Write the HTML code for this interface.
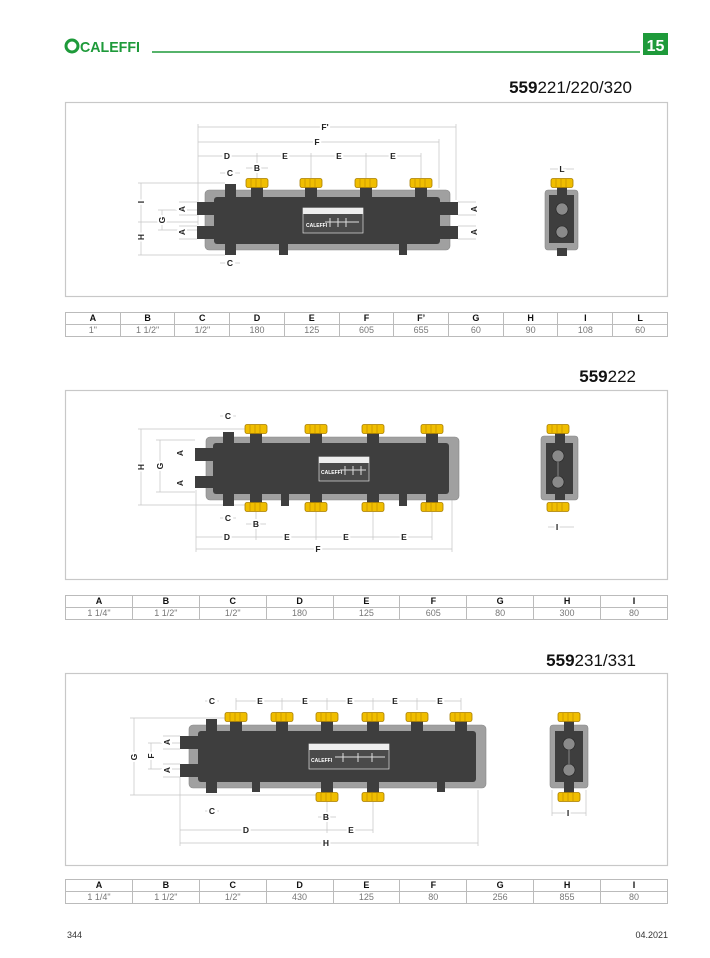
<!DOCTYPE html>
<html><head><meta charset="utf-8"><style>
html,body{margin:0;padding:0;background:#fff;}
body{width:710px;height:958px;position:relative;overflow:hidden;font-family:"Liberation Sans",sans-serif;}
.t{position:absolute;left:65px;width:603px;border-collapse:collapse;font-size:9px;table-layout:fixed;}
.t td{border:1px solid #bbb;text-align:center;padding:0;height:11px;line-height:11px;}
.t tr:first-child td{font-weight:bold;color:#111;border-top:1.5px solid #bbb;}
.t tr:last-child td{color:#777;}
</style></head><body>
<svg width="710" height="958" style="position:absolute;left:0;top:0" font-family="Liberation Sans, sans-serif">
<defs>
<g id="nut"><rect x="-11" y="-4.5" width="22" height="9" rx="2" fill="#f0be00" stroke="#a87e00" stroke-width="0.8"/><path d="M-6,-4.5v9M-1,-4.5v9M4,-4.5v9" stroke="#c89400" stroke-width="0.8"/></g>
<g id="ar"><path d="M0,0l4,-2.2v4.4z" fill="none" stroke="#aaa" stroke-width="0.6"/></g>
</defs>
<!-- header -->
<circle cx="72" cy="46" r="6" fill="none" stroke="#1e9a3a" stroke-width="3"/>
<text x="80" y="52" font-size="15" font-weight="bold" fill="#1e9a3a" textLength="60" lengthAdjust="spacingAndGlyphs">CALEFFI</text>
<line x1="152" y1="52" x2="640" y2="52" stroke="#1e9a3a" stroke-width="1.5"/>
<rect x="643" y="33" width="25" height="22" fill="#1e9a3a"/>
<text x="655.5" y="51" font-size="16" font-weight="bold" fill="#fff" text-anchor="middle">15</text>

<!-- titles -->
<text x="632" y="93" font-size="17" text-anchor="end" fill="#111"><tspan font-weight="bold">559</tspan>221/220/320</text>
<text x="636" y="382" font-size="17" text-anchor="end" fill="#111"><tspan font-weight="bold">559</tspan>222</text>
<text x="636" y="666" font-size="17" text-anchor="end" fill="#111"><tspan font-weight="bold">559</tspan>231/331</text>

<!-- frames -->
<rect x="65.5" y="102.5" width="602" height="194" fill="none" stroke="#c8c8c8" stroke-width="1.2"/>
<rect x="65.5" y="390.5" width="602" height="189" fill="none" stroke="#c8c8c8" stroke-width="1.2"/>
<rect x="65.5" y="673.5" width="602" height="192" fill="none" stroke="#c8c8c8" stroke-width="1.2"/>

<g stroke="#c4c4c4" stroke-width="0.7" fill="none">
<!-- sec1 dims -->
<line x1="198" y1="127" x2="456" y2="127"/><line x1="198" y1="142" x2="439" y2="142"/><line x1="198" y1="156" x2="421" y2="156"/>
<line x1="198" y1="124" x2="198" y2="225"/><line x1="456" y1="124" x2="456" y2="200"/><line x1="439" y1="139" x2="439" y2="188"/>
<line x1="257" y1="153" x2="257" y2="178"/><line x1="311" y1="153" x2="311" y2="178"/><line x1="366" y1="153" x2="366" y2="178"/><line x1="421" y1="153" x2="421" y2="178"/>
<line x1="141" y1="183" x2="141" y2="255"/><line x1="138" y1="183" x2="225" y2="183"/><line x1="138" y1="255" x2="225" y2="255"/><line x1="138" y1="222" x2="198" y2="222"/>
<line x1="162" y1="210" x2="162" y2="230"/><line x1="158" y1="210" x2="198" y2="210"/><line x1="158" y1="230" x2="198" y2="230"/>
<line x1="179" y1="202" x2="197" y2="202"/><line x1="179" y1="215" x2="197" y2="215"/><line x1="179" y1="226" x2="197" y2="226"/><line x1="179" y1="239" x2="197" y2="239"/>
<line x1="458" y1="202" x2="476" y2="202"/><line x1="458" y1="215" x2="476" y2="215"/><line x1="458" y1="226" x2="476" y2="226"/><line x1="458" y1="239" x2="476" y2="239"/>
<line x1="246" y1="168" x2="268" y2="168"/><line x1="220" y1="173" x2="240" y2="173"/><line x1="220" y1="263" x2="240" y2="263"/>
<line x1="550" y1="169" x2="574" y2="169"/>
<!-- sec2 dims -->
<line x1="196" y1="537" x2="432" y2="537"/><line x1="196" y1="549" x2="452" y2="549"/>
<line x1="196" y1="490" x2="196" y2="552"/><line x1="452" y1="500" x2="452" y2="552"/>
<line x1="256" y1="512" x2="256" y2="540"/><line x1="316" y1="512" x2="316" y2="540"/><line x1="373" y1="512" x2="373" y2="540"/><line x1="432" y1="512" x2="432" y2="540"/>
<line x1="141" y1="429" x2="141" y2="505"/><line x1="138" y1="429" x2="245" y2="429"/><line x1="138" y1="505" x2="245" y2="505"/>
<line x1="160" y1="440" x2="160" y2="492"/><line x1="156" y1="440" x2="195" y2="440"/><line x1="156" y1="492" x2="195" y2="492"/>
<line x1="220" y1="416" x2="236" y2="416"/><line x1="220" y1="518" x2="236" y2="518"/><line x1="246" y1="524" x2="266" y2="524"/>
<line x1="548" y1="527" x2="574" y2="527"/>
<!-- sec3 dims -->
<line x1="236" y1="701" x2="461" y2="701"/><line x1="205" y1="701" x2="219" y2="701"/>
<line x1="236" y1="698" x2="236" y2="710"/><line x1="282" y1="698" x2="282" y2="710"/><line x1="327" y1="698" x2="327" y2="710"/><line x1="373" y1="698" x2="373" y2="710"/><line x1="417" y1="698" x2="417" y2="710"/><line x1="461" y1="698" x2="461" y2="710"/>
<line x1="134" y1="718" x2="134" y2="795"/><line x1="130" y1="718" x2="225" y2="718"/><line x1="130" y1="795" x2="320" y2="795"/>
<line x1="151" y1="743" x2="151" y2="769"/><line x1="148" y1="743" x2="180" y2="743"/><line x1="148" y1="769" x2="180" y2="769"/>
<line x1="163" y1="736" x2="180" y2="736"/><line x1="163" y1="749" x2="180" y2="749"/><line x1="163" y1="764" x2="180" y2="764"/><line x1="163" y1="777" x2="180" y2="777"/>
<line x1="205" y1="811" x2="219" y2="811"/><line x1="318" y1="817" x2="336" y2="817"/>
<line x1="180" y1="830" x2="373" y2="830"/><line x1="180" y1="843" x2="478" y2="843"/>
<line x1="180" y1="777" x2="180" y2="846"/><line x1="478" y1="790" x2="478" y2="846"/><line x1="327" y1="802" x2="327" y2="833"/><line x1="373" y1="802" x2="373" y2="833"/>
<line x1="552" y1="813" x2="586" y2="813"/><line x1="552" y1="790" x2="552" y2="816"/><line x1="586" y1="790" x2="586" y2="816"/>
</g>

<g font-size="8.5" font-weight="bold" fill="#222" text-anchor="middle">
<!-- sec1 labels -->
<text x="325" y="130" fill="#222" style="paint-order:stroke" stroke="#fff" stroke-width="4">F'</text>
<text x="317" y="145" stroke="#fff" stroke-width="4" style="paint-order:stroke">F</text>
<g stroke="#fff" stroke-width="4" style="paint-order:stroke">
<text x="227" y="159">D</text><text x="285" y="159">E</text><text x="339" y="159">E</text><text x="393" y="159">E</text>
<text x="257" y="171">B</text><text x="230" y="176">C</text><text x="230" y="266">C</text><text x="562" y="172">L</text>
<text x="227" y="540">D</text><text x="287" y="540">E</text><text x="346" y="540">E</text><text x="404" y="540">E</text>
<text x="318" y="552">F</text><text x="228" y="419">C</text><text x="228" y="521">C</text><text x="256" y="527">B</text><text x="557" y="530">I</text>
<text x="212" y="704">C</text><text x="260" y="704">E</text><text x="305" y="704">E</text><text x="350" y="704">E</text><text x="395" y="704">E</text><text x="440" y="704">E</text>
<text x="212" y="814">C</text><text x="326" y="820">B</text><text x="246" y="833">D</text><text x="351" y="833">E</text><text x="326" y="846">H</text><text x="568" y="816">I</text>
</g>
<g transform="rotate(-90)" stroke="#fff" stroke-width="4" style="paint-order:stroke">
<text x="-202" y="144">I</text><text x="-237" y="144">H</text><text x="-220" y="165">G</text><text x="-209" y="185">A</text><text x="-232" y="185">A</text><text x="-209" y="477">A</text><text x="-232" y="477">A</text>
<text x="-467" y="144">H</text><text x="-466" y="163">G</text><text x="-453" y="183">A</text><text x="-483" y="183">A</text>
<text x="-757" y="137">G</text><text x="-756" y="154">F</text><text x="-742" y="170">A</text><text x="-770" y="170">A</text>
</g>
</g>

<!-- SECTION 1 drawing -->
<rect x="205" y="190" width="245" height="60" rx="4" fill="#a0a0a0" stroke="#888" stroke-width="0.6"/>
<g fill="#3e3e3e">
<rect x="197" y="202" width="18" height="13"/><rect x="197" y="226" width="18" height="13"/>
<rect x="440" y="202" width="18" height="13"/><rect x="440" y="226" width="18" height="13"/>
<rect x="225" y="184" width="11" height="14"/><rect x="251" y="184" width="12" height="14"/><rect x="305" y="184" width="12" height="14"/><rect x="360" y="184" width="12" height="14"/><rect x="415" y="184" width="12" height="14"/>
<rect x="225" y="243" width="11" height="12"/><rect x="279" y="243" width="9" height="12"/><rect x="399" y="243" width="8" height="12"/>
<rect x="214" y="197" width="226" height="47" rx="3"/>
</g>
<use href="#nut" x="257" y="183"/><use href="#nut" x="311" y="183"/><use href="#nut" x="366" y="183"/><use href="#nut" x="421" y="183"/>
<rect x="303" y="208" width="60" height="25" fill="#4a4a4a" stroke="#ddd" stroke-width="0.7"/><rect x="303" y="208" width="60" height="6" fill="#eee"/>
<text x="306" y="227" font-size="5" fill="#fff" font-weight="bold">CALEFFI</text>
<path d="M325,222h34M330,218v9M338,218v9M346,218v9" stroke="#ddd" stroke-width="1"/>
<!-- side 1 -->
<rect x="545" y="190" width="33" height="60" rx="3" fill="#a0a0a0" stroke="#888" stroke-width="0.6"/>
<rect x="549" y="195" width="25" height="48" fill="#3e3e3e"/>
<rect x="557" y="185" width="10" height="12" fill="#3e3e3e"/><rect x="557" y="248" width="10" height="8" fill="#3e3e3e"/>
<circle cx="562" cy="209" r="6" fill="#8a8a8a" stroke="#222" stroke-width="0.6"/><circle cx="562" cy="232" r="6" fill="#8a8a8a" stroke="#222" stroke-width="0.6"/>
<use href="#nut" x="562" y="183"/>

<!-- SECTION 2 drawing -->
<rect x="206" y="437" width="253" height="63" rx="4" fill="#a0a0a0" stroke="#888" stroke-width="0.6"/>
<g fill="#3e3e3e">
<rect x="195" y="448" width="18" height="13"/><rect x="195" y="476" width="18" height="12"/>
<rect x="223" y="432" width="11" height="12"/><rect x="250" y="430" width="12" height="14"/><rect x="310" y="430" width="12" height="14"/><rect x="367" y="430" width="12" height="14"/><rect x="426" y="430" width="12" height="14"/>
<rect x="223" y="493" width="11" height="13"/><rect x="281" y="493" width="8" height="13"/><rect x="399" y="493" width="8" height="13"/>
<rect x="250" y="493" width="12" height="12"/><rect x="310" y="493" width="12" height="12"/><rect x="367" y="493" width="12" height="12"/><rect x="426" y="493" width="12" height="12"/>
<rect x="213" y="443" width="236" height="51" rx="3"/>
</g>
<use href="#nut" x="256" y="429"/><use href="#nut" x="316" y="429"/><use href="#nut" x="373" y="429"/><use href="#nut" x="432" y="429"/>
<use href="#nut" x="256" y="507"/><use href="#nut" x="316" y="507"/><use href="#nut" x="373" y="507"/><use href="#nut" x="432" y="507"/>
<rect x="319" y="457" width="50" height="24" fill="#4a4a4a" stroke="#ddd" stroke-width="0.7"/><rect x="319" y="457" width="50" height="6" fill="#eee"/>
<text x="321" y="474" font-size="5" fill="#fff" font-weight="bold">CALEFFI</text>
<path d="M340,470h26M345,466v9M353,466v9M361,466v9" stroke="#ddd" stroke-width="1"/>
<rect x="541" y="436" width="37" height="64" rx="3" fill="#a0a0a0" stroke="#888" stroke-width="0.6"/>
<rect x="546" y="443" width="27" height="51" fill="#3e3e3e"/>
<rect x="555" y="430" width="10" height="70" fill="#3e3e3e"/>
<circle cx="558" cy="456" r="6" fill="#8a8a8a" stroke="#222" stroke-width="0.6"/><circle cx="558" cy="482" r="6" fill="#8a8a8a" stroke="#222" stroke-width="0.6"/>
<line x1="558" y1="462" x2="558" y2="476" stroke="#888" stroke-width="1"/>
<use href="#nut" x="558" y="429"/><use href="#nut" x="558" y="507"/>

<!-- SECTION 3 drawing -->
<rect x="189" y="725" width="297" height="63" rx="4" fill="#a0a0a0" stroke="#888" stroke-width="0.6"/>
<g fill="#3e3e3e">
<rect x="180" y="736" width="18" height="13"/><rect x="180" y="764" width="18" height="13"/>
<rect x="206" y="719" width="11" height="13"/>
<rect x="230" y="719" width="12" height="13"/><rect x="276" y="719" width="12" height="13"/><rect x="321" y="719" width="12" height="13"/><rect x="367" y="719" width="12" height="13"/><rect x="411" y="719" width="12" height="13"/><rect x="455" y="719" width="12" height="13"/>
<rect x="206" y="780" width="11" height="13"/><rect x="252" y="780" width="8" height="12"/><rect x="437" y="780" width="8" height="12"/>
<rect x="321" y="780" width="12" height="13"/><rect x="367" y="780" width="12" height="13"/>
<rect x="198" y="731" width="278" height="51" rx="3"/>
</g>
<use href="#nut" x="236" y="717"/><use href="#nut" x="282" y="717"/><use href="#nut" x="327" y="717"/><use href="#nut" x="373" y="717"/><use href="#nut" x="417" y="717"/><use href="#nut" x="461" y="717"/>
<use href="#nut" x="327" y="797"/><use href="#nut" x="373" y="797"/>
<rect x="309" y="744" width="80" height="25" fill="#4a4a4a" stroke="#ddd" stroke-width="0.7"/><rect x="309" y="744" width="80" height="6" fill="#eee"/>
<text x="311" y="762" font-size="5" fill="#fff" font-weight="bold">CALEFFI</text>
<path d="M335,757h50M343,753v9M358,753v9M372,753v9" stroke="#ddd" stroke-width="1"/>
<rect x="550" y="725" width="38" height="63" rx="3" fill="#a0a0a0" stroke="#888" stroke-width="0.6"/>
<rect x="555" y="731" width="28" height="51" fill="#3e3e3e"/>
<rect x="564" y="719" width="10" height="75" fill="#3e3e3e"/>
<circle cx="569" cy="744" r="6" fill="#8a8a8a" stroke="#222" stroke-width="0.6"/><circle cx="569" cy="770" r="6" fill="#8a8a8a" stroke="#222" stroke-width="0.6"/>
<line x1="569" y1="750" x2="569" y2="764" stroke="#888" stroke-width="1"/>
<use href="#nut" x="569" y="717"/><use href="#nut" x="569" y="797"/>

<!-- footer -->
<text x="67" y="938" font-size="9" fill="#333">344</text>
<text x="668" y="938" font-size="9" fill="#333" text-anchor="end">04.2021</text>
</svg>

<table class="t" style="top:312px"><tr><td>A</td><td>B</td><td>C</td><td>D</td><td>E</td><td>F</td><td>F’</td><td>G</td><td>H</td><td>I</td><td>L</td></tr>
<tr><td>1"</td><td>1 1/2"</td><td>1/2"</td><td>180</td><td>125</td><td>605</td><td>655</td><td>60</td><td>90</td><td>108</td><td>60</td></tr></table>
<table class="t" style="top:595px"><tr><td>A</td><td>B</td><td>C</td><td>D</td><td>E</td><td>F</td><td>G</td><td>H</td><td>I</td></tr>
<tr><td>1 1/4"</td><td>1 1/2"</td><td>1/2"</td><td>180</td><td>125</td><td>605</td><td>80</td><td>300</td><td>80</td></tr></table>
<table class="t" style="top:879px"><tr><td>A</td><td>B</td><td>C</td><td>D</td><td>E</td><td>F</td><td>G</td><td>H</td><td>I</td></tr>
<tr><td>1 1/4"</td><td>1 1/2"</td><td>1/2"</td><td>430</td><td>125</td><td>80</td><td>256</td><td>855</td><td>80</td></tr></table>
</body></html>
